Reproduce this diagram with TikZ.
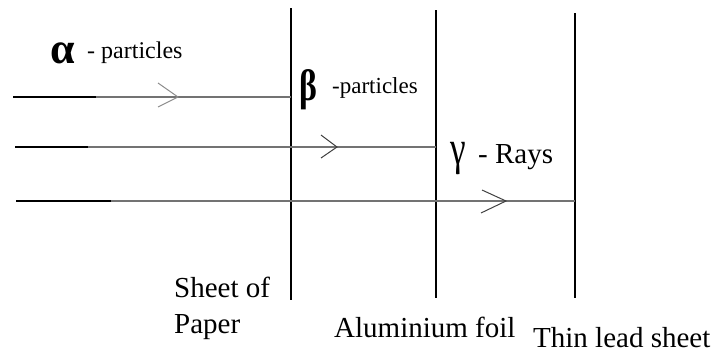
\documentclass[tikz,border=0pt]{standalone}
\usepackage{fontspec}
\setmainfont{Liberation Serif}
\usetikzlibrary{calc}
\begin{document}
\begin{tikzpicture}[x=1pt,y=-1pt,
  sheet/.style={line width=1.8pt,black},
  ray/.style={line width=1.3pt,black!55},
  src/.style={line width=2.2pt,black},
  chev/.style={line width=1pt,black!75},
  lbl/.style={inner sep=0pt,anchor=base west,font=\fontsize{29}{30}\selectfont},
  small/.style={inner sep=0pt,anchor=base west,font=\fontsize{24}{26}\selectfont},
  greek/.style={inner sep=0pt,anchor=base west}]
\useasboundingbox (0,0) rectangle (714,354);
% sheets
\coordinate (pT) at (291,8);   \coordinate (pB) at (291,300);
\coordinate (aT) at (436,10);  \coordinate (aB) at (436,298);
\coordinate (lT) at (575,13);  \coordinate (lB) at (575,298);
\draw[sheet] (pT) -- (pB);
\draw[sheet] (aT) -- (aB);
\draw[sheet] (lT) -- (lB);
% alpha ray
\coordinate (r1s) at (13,97);  \coordinate (r1k) at (96,97);  \coordinate (r1e) at (291,97);
\draw[ray] (r1s) -- (r1e);
\draw[src] (r1s) -- (r1k);
\coordinate (c1) at (178,97);
\draw[chev,black!45] ($(c1)+(-20,-14)$) -- (c1) -- ($(c1)+(-20,10)$);
% beta ray
\coordinate (r2s) at (15,147); \coordinate (r2k) at (88,147); \coordinate (r2e) at (436,147);
\draw[ray] (r2s) -- (r2e);
\draw[src] (r2s) -- (r2k);
\coordinate (c2) at (337,147);
\draw[chev] ($(c2)+(-16,-12)$) -- (c2) -- ($(c2)+(-16,11)$);
% gamma ray
\coordinate (r3s) at (16,201); \coordinate (r3k) at (111,201); \coordinate (r3e) at (575,201);
\draw[ray] (r3s) -- (r3e);
\draw[src] (r3s) -- (r3k);
\coordinate (c3) at (506,201);
\draw[chev] ($(c3)+(-24,-11)$) -- (c3) -- ($(c3)+(-25,12)$);
% labels
\node[greek,font=\fontsize{44}{44}\selectfont\bfseries] (alpha) at (50,63) {α};
\node[small] (alphat) at (87,58) {- particles};
\node[greek,font=\fontsize{40}{40}\selectfont\bfseries] (beta) at (299,100) {\scalebox{0.85}[1.1]{β}};
\node[small,font=\fontsize{23}{25}\selectfont] (betat) at (332,93) {-particles};
\node[greek,font=\fontsize{44}{44}\selectfont] (gamma) at (450,164) {\scalebox{0.8}[1.1]{γ}};
\node[lbl] (gammat) at (478,163) {- Rays};
\node[lbl] (sheet1) at (174,297) {Sheet of};
\node[lbl] (sheet2) at (174,333) {Paper};
\node[lbl] (alu) at (334,337) {Aluminium foil};
\node[lbl] (lead) at (533,347) {Thin lead sheet};
\end{tikzpicture}
\end{document}
